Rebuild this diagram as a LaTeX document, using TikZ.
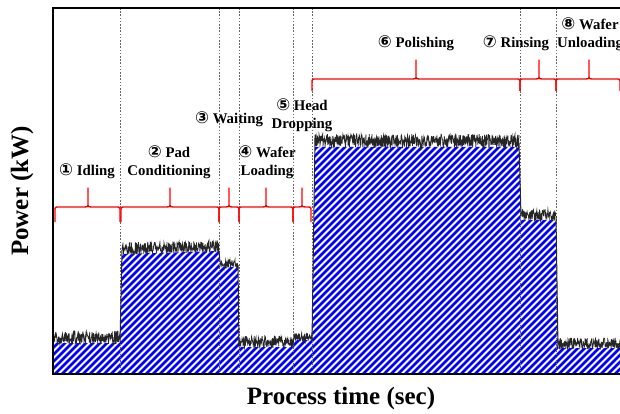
\documentclass[tikz,border=0pt]{standalone}
\usepackage{fontspec}
\setmainfont{Liberation Serif}
\newfontfamily\circfont{DejaVu Sans}
\newcommand{\circnum}[1]{{\circfont\fontsize{16.5}{18}\selectfont #1}}
\newcommand{\redbrace}[6]{% x1, x2, tip, ybase, enddrop, tiprise
  \draw[bracestyle] (#1,#4+#5) -- (#1,#4+4) .. controls (#1,#4) .. (#1+4,#4)
    -- (#3-3,#4) .. controls (#3,#4) .. (#3,#4-4) -- (#3,#4-#6)
    -- (#3,#4-4) .. controls (#3,#4) .. (#3+3,#4)
    -- (#2-4,#4) .. controls (#2,#4) .. (#2,#4+4) -- (#2,#4+#5);}
\begin{document}
\begin{tikzpicture}[x=1pt,y=-1pt,
  lab/.style={font=\fontsize{14.8}{18}\selectfont\bfseries, align=center, inner sep=0pt},
  axlab/.style={font=\fontsize{25}{30}\selectfont\bfseries, inner sep=0pt},
  bracestyle/.style={red, line width=1.4pt, line join=round},
  sep/.style={gray!80!black, line width=0.6pt, dash pattern=on 1.6pt off 1.6pt},
  noise/.style={black!85, line width=0.75pt},
  hatch/.style={blue, line width=2.6pt},
  frame/.style={black, line width=2pt},
  edge/.style={black!85, line width=1pt}]
\useasboundingbox (0,0) rectangle (620,414);
\clip (0,0) rectangle (620,414);

% hatched area
\begin{scope}
  \clip (53,374) -- (53,343) -- (120,343) -- (122,254) -- (219,251) -- (220,267)
    -- (238,267) -- (239,347) -- (293,347) -- (294,340) -- (312,340) -- (315,147)
    -- (519,147) -- (521,220) -- (556,220) -- (558,348) -- (640,348) -- (640,374) -- cycle;
  \foreach \i in {-420,-413,...,640} \draw[hatch] (\i,380) -- ++(420,-420);
\end{scope}

% phase separators
\foreach \xx in {120,219,239,293,312,520,556}
  \draw[sep] (\xx,8) -- (\xx,374);

% noisy power trace
\pgfmathsetseed{11}
\draw[noise] plot[domain=53:120, samples=200] (\x, {344 - 13*rnd});
\draw[noise] plot[domain=122:219, samples=290] (\x, {254.5 - 0.025*(\x-122) - 12*rnd});
\draw[noise] plot[domain=220:238, samples=55] (\x, {268 - 9*rnd});
\draw[noise] plot[domain=239:293, samples=160] (\x, {348 - 12*rnd});
\draw[noise] plot[domain=294:312, samples=55] (\x, {341 - 8*rnd});
\draw[noise] plot[domain=315:519, samples=610] (\x, {148 - 14*rnd});
\draw[noise] plot[domain=521:556, samples=105] (\x, {221 - 12*rnd});
\draw[noise] plot[domain=558:640, samples=240] (\x, {349 - 11*rnd});
% transitions
\draw[edge] (120,343) -- (122,250);
\draw[edge] (219,251) -- (220,262);
\draw[edge] (238,265) -- (239,347);
\draw[edge] (293,345) -- (294,336);
\draw[edge] (312,340) -- (315,138);
\draw[edge] (519,143) -- (521,216);
\draw[edge] (556,216) -- (558,348);

% braces
\redbrace{55}{120}{88}{207}{15}{19}
\redbrace{121}{219}{170}{207}{15}{19}
\redbrace{219}{239}{229}{207}{15}{19}
\redbrace{239}{293}{266}{207}{15}{19}
\redbrace{293}{311}{302}{207}{15}{19}
\redbrace{312}{520}{416}{79}{12}{19}
\redbrace{520}{556}{539}{79}{12}{19}
\redbrace{556}{620}{589}{79}{12}{19}

% phase labels
\node[lab] (p1) at (87,171) {\circnum{①} Idling};
\node[lab] (p2) at (169,162) {\circnum{②} Pad\\Conditioning};
\node[lab] (p3) at (229,119) {\circnum{③} Waiting};
\node[lab] (p4) at (267,162) {\circnum{④} Wafer\\Loading};
\node[lab] (p5) at (302,115) {\circnum{⑤} Head\\Dropping};
\node[lab] (p6) at (416,43) {\circnum{⑥} Polishing};
\node[lab] (p7) at (516,43) {\circnum{⑦} Rinsing};
\node[lab] (p8) at (590,34) {\circnum{⑧} Wafer\\Unloading};

% frame
\draw[frame] (640,8) -- (53,8) -- (53,374) -- (640,374);

% axis labels
\node[axlab, rotate=90] (ylab) at (22,191) {Power (kW)};
\node[axlab] (xlab) at (341,398) {Process time (sec)};
\end{tikzpicture}
\end{document}
